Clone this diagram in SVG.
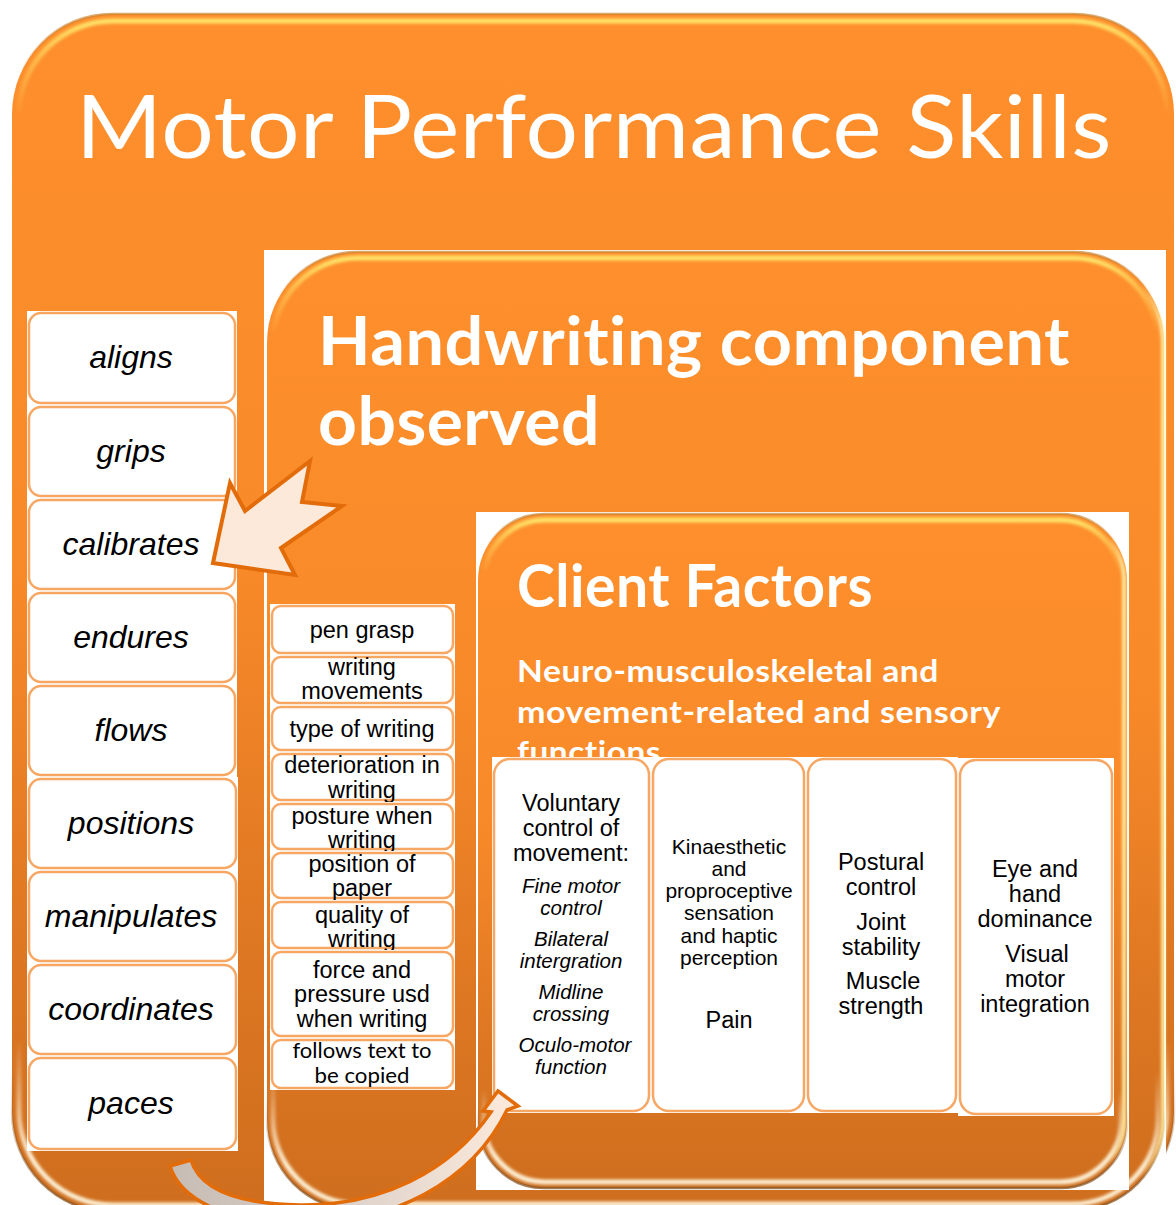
<svg xmlns="http://www.w3.org/2000/svg" width="1176" height="1205" viewBox="0 0 1176 1205">
  <defs>
    <style>
      .heading { font-family: Lato, "Open Sans", sans-serif; fill: #ffffff; font-variant-ligatures: none; font-feature-settings: "liga" 0, "clig" 0; letter-spacing: 0.5px; }
      .skill { font-family: "Liberation Sans", Arial, sans-serif; font-style: italic; font-size: 32px; text-anchor: middle; fill: #000000; }
      .obs { font-family: "Liberation Sans", Arial, sans-serif; font-size: 23.5px; text-anchor: middle; fill: #000000; }
      .obs2 { font-family: Lato, "Open Sans", sans-serif; font-size: 22px; text-anchor: middle; fill: #000000; }
      .cf { font-family: "Liberation Sans", Arial, sans-serif; font-size: 23.5px; text-anchor: middle; fill: #000000; }
      .cfs { font-family: "Liberation Sans", Arial, sans-serif; font-size: 21px; text-anchor: middle; fill: #000000; }
      .cfi { font-family: "Liberation Sans", Arial, sans-serif; font-style: italic; font-size: 20.5px; text-anchor: middle; fill: #000000; }
      .cell { fill: #ffffff; }
      .cell-rim { fill: none; stroke: #F7A764; stroke-width: 2.5; }
      .backing { fill: #ffffff; }
      .panel { fill: url(#panelFill); }
      .gloss { fill: none; stroke: url(#gloss); stroke-width: 5; filter: url(#soft); }
      .side { fill: none; stroke: url(#sideGlow); stroke-width: 4; filter: url(#soft); }
      .rim { fill: none; stroke: url(#rimDark); stroke-width: 2.5; }
      .callout { fill: #FDE9D9; stroke: #E36C0A; stroke-width: 4; stroke-linejoin: miter; }
      .swoop { fill: url(#swoopFill); stroke: #E36C0A; stroke-width: 3.5; stroke-linejoin: miter; }
    </style>
    <linearGradient id="panelFill" x1="0" y1="0" x2="0" y2="1">
      <stop offset="0" stop-color="#FE8F2C"/>
      <stop offset="0.45" stop-color="#F98A29"/>
      <stop offset="0.8" stop-color="#DC7622"/>
      <stop offset="1" stop-color="#CE6E1E"/>
    </linearGradient>
    <linearGradient id="gloss" x1="0" y1="0" x2="0" y2="1">
      <stop offset="0" stop-color="#FFE46A" stop-opacity="1"/>
      <stop offset="0.035" stop-color="#FFE46A" stop-opacity="0.5"/>
      <stop offset="0.08" stop-color="#FFE46A" stop-opacity="0"/>
      <stop offset="0.86" stop-color="#FFF4DA" stop-opacity="0"/>
      <stop offset="0.96" stop-color="#FFF4DA" stop-opacity="0.95"/>
      <stop offset="1" stop-color="#FFF4DA" stop-opacity="0.95"/>
    </linearGradient>
    <linearGradient id="sideGlow" x1="0" y1="0" x2="1" y2="0">
      <stop offset="0" stop-color="#FFF2A8" stop-opacity="0"/>
      <stop offset="0.975" stop-color="#FFF2A8" stop-opacity="0"/>
      <stop offset="1" stop-color="#FFF2A8" stop-opacity="0.95"/>
    </linearGradient>
    <linearGradient id="rimDark" x1="0" y1="0" x2="0" y2="1">
      <stop offset="0" stop-color="#C9822E" stop-opacity="0.7"/>
      <stop offset="0.05" stop-color="#C9822E" stop-opacity="0"/>
      <stop offset="0.88" stop-color="#8A5624" stop-opacity="0"/>
      <stop offset="1" stop-color="#8A5624" stop-opacity="0.8"/>
    </linearGradient>
    <linearGradient id="swoopFill" x1="0" y1="0" x2="1" y2="0">
      <stop offset="0" stop-color="#C6BCB4"/>
      <stop offset="0.45" stop-color="#D9CFC8"/>
      <stop offset="1" stop-color="#FDEADB"/>
    </linearGradient>
    <filter id="soft" x="-5%" y="-5%" width="110%" height="110%">
      <feGaussianBlur stdDeviation="1.4"/>
    </filter>
  </defs>

  <rect x="0" y="0" width="1176" height="1205" fill="#ffffff"/>

  <!-- Outer container: Motor Performance Skills -->
  <g id="motor-performance-skills">
    <rect class="panel" x="12" y="14" width="1162" height="1198" rx="100" ry="100"/>
    <rect class="rim" x="12" y="14" width="1162" height="1198" rx="100" ry="100"/>
    <rect class="gloss" x="19" y="21" width="1148" height="1184" rx="94" ry="94"/>
    <text class="heading" x="76" y="158" font-size="88" textLength="1036" lengthAdjust="spacingAndGlyphs">Motor Performance Skills</text>
  </g>

  <!-- Skill list on the left -->
  <g id="skill-aligns">
    <rect class="cell" x="27" y="311" width="210" height="94"/>
    <rect class="cell-rim" x="29" y="313" width="206" height="90" rx="12"/>
    <text class="skill" x="131" y="368">aligns</text>
  </g>
  <g id="skill-grips">
    <rect class="cell" x="27" y="405" width="210" height="93"/>
    <rect class="cell-rim" x="29" y="407" width="206" height="89" rx="12"/>
    <text class="skill" x="131" y="462">grips</text>
  </g>
  <g id="skill-calibrates">
    <rect class="cell" x="27" y="498" width="210" height="93"/>
    <rect class="cell-rim" x="29" y="500" width="206" height="89" rx="12"/>
    <text class="skill" x="131" y="555">calibrates</text>
  </g>
  <g id="skill-endures">
    <rect class="cell" x="27" y="591" width="210" height="93"/>
    <rect class="cell-rim" x="29" y="593" width="206" height="89" rx="12"/>
    <text class="skill" x="131" y="648">endures</text>
  </g>
  <g id="skill-flows">
    <rect class="cell" x="27" y="684" width="210" height="93"/>
    <rect class="cell-rim" x="29" y="686" width="206" height="89" rx="12"/>
    <text class="skill" x="131" y="741">flows</text>
  </g>
  <g id="skill-positions">
    <rect class="cell" x="27" y="777" width="211" height="93"/>
    <rect class="cell-rim" x="29" y="779" width="207" height="89" rx="12"/>
    <text class="skill" x="131" y="834">positions</text>
  </g>
  <g id="skill-manipulates">
    <rect class="cell" x="27" y="870" width="211" height="93"/>
    <rect class="cell-rim" x="29" y="872" width="207" height="89" rx="12"/>
    <text class="skill" x="131" y="927">manipulates</text>
  </g>
  <g id="skill-coordinates">
    <rect class="cell" x="27" y="963" width="211" height="93"/>
    <rect class="cell-rim" x="29" y="965" width="207" height="89" rx="12"/>
    <text class="skill" x="131" y="1020">coordinates</text>
  </g>
  <g id="skill-paces">
    <rect class="cell" x="27" y="1056" width="211" height="95"/>
    <rect class="cell-rim" x="29" y="1058" width="207" height="91" rx="12"/>
    <text class="skill" x="131" y="1114">paces</text>
  </g>

  <!-- Middle container: Handwriting component observed -->
  <g id="handwriting-component">
    <rect class="backing" x="264" y="250" width="902" height="960"/>
    <rect class="panel" x="267" y="252" width="897" height="958" rx="90" ry="90"/>
    <rect class="rim" x="267" y="252" width="897" height="958" rx="90" ry="90"/>
    <rect class="gloss" x="273" y="258" width="885" height="946" rx="85" ry="85"/>
    <rect class="side" x="270" y="256" width="893" height="950" rx="88" ry="88"/>
    <text class="heading" x="318" y="365" font-size="67" font-weight="bold" textLength="752" lengthAdjust="spacingAndGlyphs">Handwriting component</text>
    <text class="heading" x="318" y="445" font-size="67" font-weight="bold" textLength="282" lengthAdjust="spacingAndGlyphs">observed</text>
  </g>

  <!-- Observed handwriting items -->
  <g id="obs-pen-grasp">
    <rect class="cell" x="270" y="604" width="185" height="51"/>
    <rect class="cell-rim" x="272" y="606" width="181" height="47" rx="9"/>
    <text class="obs" x="362" y="638">pen grasp</text>
  </g>
  <g id="obs-writing-movements">
    <rect class="cell" x="270" y="655" width="185" height="50"/>
    <rect class="cell-rim" x="272" y="657" width="181" height="46" rx="9"/>
    <text class="obs" x="362" y="675">writing</text>
    <text class="obs" x="362" y="699">movements</text>
  </g>
  <g id="obs-type-of-writing">
    <rect class="cell" x="270" y="705" width="185" height="47"/>
    <rect class="cell-rim" x="272" y="707" width="181" height="43" rx="9"/>
    <text class="obs" x="362" y="737">type of writing</text>
  </g>
  <g id="obs-deterioration">
    <rect class="cell" x="270" y="752" width="185" height="50"/>
    <rect class="cell-rim" x="272" y="754" width="181" height="46" rx="9"/>
    <text class="obs" x="362" y="773">deterioration in</text>
    <text class="obs" x="362" y="798">writing</text>
  </g>
  <g id="obs-posture">
    <rect class="cell" x="270" y="802" width="185" height="49"/>
    <rect class="cell-rim" x="272" y="804" width="181" height="45" rx="9"/>
    <text class="obs" x="362" y="824">posture when</text>
    <text class="obs" x="362" y="848">writing</text>
  </g>
  <g id="obs-paper-position">
    <rect class="cell" x="270" y="851" width="185" height="49"/>
    <rect class="cell-rim" x="272" y="853" width="181" height="45" rx="9"/>
    <text class="obs" x="362" y="872">position of</text>
    <text class="obs" x="362" y="896">paper</text>
  </g>
  <g id="obs-quality">
    <rect class="cell" x="270" y="900" width="185" height="50"/>
    <rect class="cell-rim" x="272" y="902" width="181" height="46" rx="9"/>
    <text class="obs" x="362" y="923">quality of</text>
    <text class="obs" x="362" y="947">writing</text>
  </g>
  <g id="obs-force-pressure">
    <rect class="cell" x="270" y="950" width="185" height="88"/>
    <rect class="cell-rim" x="272" y="952" width="181" height="84" rx="9"/>
    <text class="obs" x="362" y="978">force and</text>
    <text class="obs" x="362" y="1002">pressure usd</text>
    <text class="obs" x="362" y="1027">when writing</text>
  </g>
  <g id="obs-follows-text">
    <rect class="cell" x="270" y="1038" width="185" height="52"/>
    <rect class="cell-rim" x="272" y="1040" width="181" height="48" rx="9"/>
    <text class="obs2" x="362" y="1058" textLength="139" lengthAdjust="spacingAndGlyphs">follows text to</text>
    <text class="obs2" x="362" y="1083" textLength="95" lengthAdjust="spacingAndGlyphs">be copied</text>
  </g>

  <!-- Inner container: Client Factors -->
  <g id="client-factors">
    <rect class="backing" x="476" y="512" width="653" height="678"/>
    <rect class="panel" x="478" y="514" width="649" height="674" rx="66" ry="66"/>
    <rect class="rim" x="478" y="514" width="649" height="674" rx="66" ry="66"/>
    <rect class="gloss" x="484" y="520" width="637" height="662" rx="61" ry="61"/>
    <rect class="side" x="481" y="518" width="643" height="666" rx="63" ry="63"/>
    <text class="heading" x="517" y="607" font-size="60" font-weight="bold" textLength="356" lengthAdjust="spacingAndGlyphs">Client Factors</text>
    <text class="heading" x="517" y="682" font-size="31" font-weight="bold" textLength="422" lengthAdjust="spacingAndGlyphs">Neuro-musculoskeletal and</text>
    <text class="heading" x="517" y="723" font-size="31" font-weight="bold" textLength="484" lengthAdjust="spacingAndGlyphs">movement-related and sensory</text>
    <text class="heading" x="517" y="763" font-size="31" font-weight="bold" textLength="144" lengthAdjust="spacingAndGlyphs">functions</text>
  </g>

  <!-- Client factor columns -->
  <g id="cf-voluntary-control">
    <rect class="cell" x="492" y="757" width="159" height="356"/>
    <rect class="cell-rim" x="494" y="759" width="155" height="352" rx="16"/>
    <text class="cf" x="571" y="811">Voluntary</text>
    <text class="cf" x="571" y="836">control of</text>
    <text class="cf" x="571" y="861">movement:</text>
    <text class="cfi" x="571" y="893">Fine motor</text>
    <text class="cfi" x="571" y="915">control</text>
    <text class="cfi" x="571" y="946">Bilateral</text>
    <text class="cfi" x="571" y="968">intergration</text>
    <text class="cfi" x="571" y="999">Midline</text>
    <text class="cfi" x="571" y="1021">crossing</text>
    <text class="cfi" x="575" y="1052">Oculo-motor</text>
    <text class="cfi" x="571" y="1074">function</text>
  </g>
  <g id="cf-sensation">
    <rect class="cell" x="651" y="757" width="155" height="356"/>
    <rect class="cell-rim" x="653" y="759" width="151" height="352" rx="16"/>
    <text class="cfs" x="729" y="854">Kinaesthetic</text>
    <text class="cfs" x="729" y="876">and</text>
    <text class="cfs" x="729" y="898">proproceptive</text>
    <text class="cfs" x="729" y="920">sensation</text>
    <text class="cfs" x="729" y="943">and haptic</text>
    <text class="cfs" x="729" y="965">perception</text>
    <text class="cf" x="729" y="1028">Pain</text>
  </g>
  <g id="cf-postural">
    <rect class="cell" x="806" y="757" width="152" height="356"/>
    <rect class="cell-rim" x="808" y="759" width="148" height="352" rx="16"/>
    <text class="cf" x="881" y="870">Postural</text>
    <text class="cf" x="881" y="895">control</text>
    <text class="cf" x="881" y="930">Joint</text>
    <text class="cf" x="881" y="955">stability</text>
    <text class="cf" x="883" y="989">Muscle</text>
    <text class="cf" x="881" y="1014">strength</text>
  </g>
  <g id="cf-eye-hand">
    <rect class="cell" x="958" y="758" width="156" height="358"/>
    <rect class="cell-rim" x="960" y="760" width="152" height="354" rx="16"/>
    <text class="cf" x="1035" y="877">Eye and</text>
    <text class="cf" x="1035" y="902">hand</text>
    <text class="cf" x="1035" y="927">dominance</text>
    <text class="cf" x="1037" y="962">Visual</text>
    <text class="cf" x="1035" y="987">motor</text>
    <text class="cf" x="1035" y="1012">integration</text>
  </g>

  <!-- Connectors -->
  <g id="connectors">
    <path id="arrow-to-skills" class="callout" d="M213,563 L230,483 L245,511 L310,461 L302,502 L342,506 L281,548 L295,575 Z"/>
    <path id="arrow-to-client" class="swoop" d="M191,1160 C200,1190 240,1204 300,1205 C380,1206 450,1172 491,1112 L483,1111 L498,1091 L518,1106 L507,1110 C472,1182 392,1224 300,1224 C230,1224 180,1200 170,1166 Z"/>
  </g>
</svg>
